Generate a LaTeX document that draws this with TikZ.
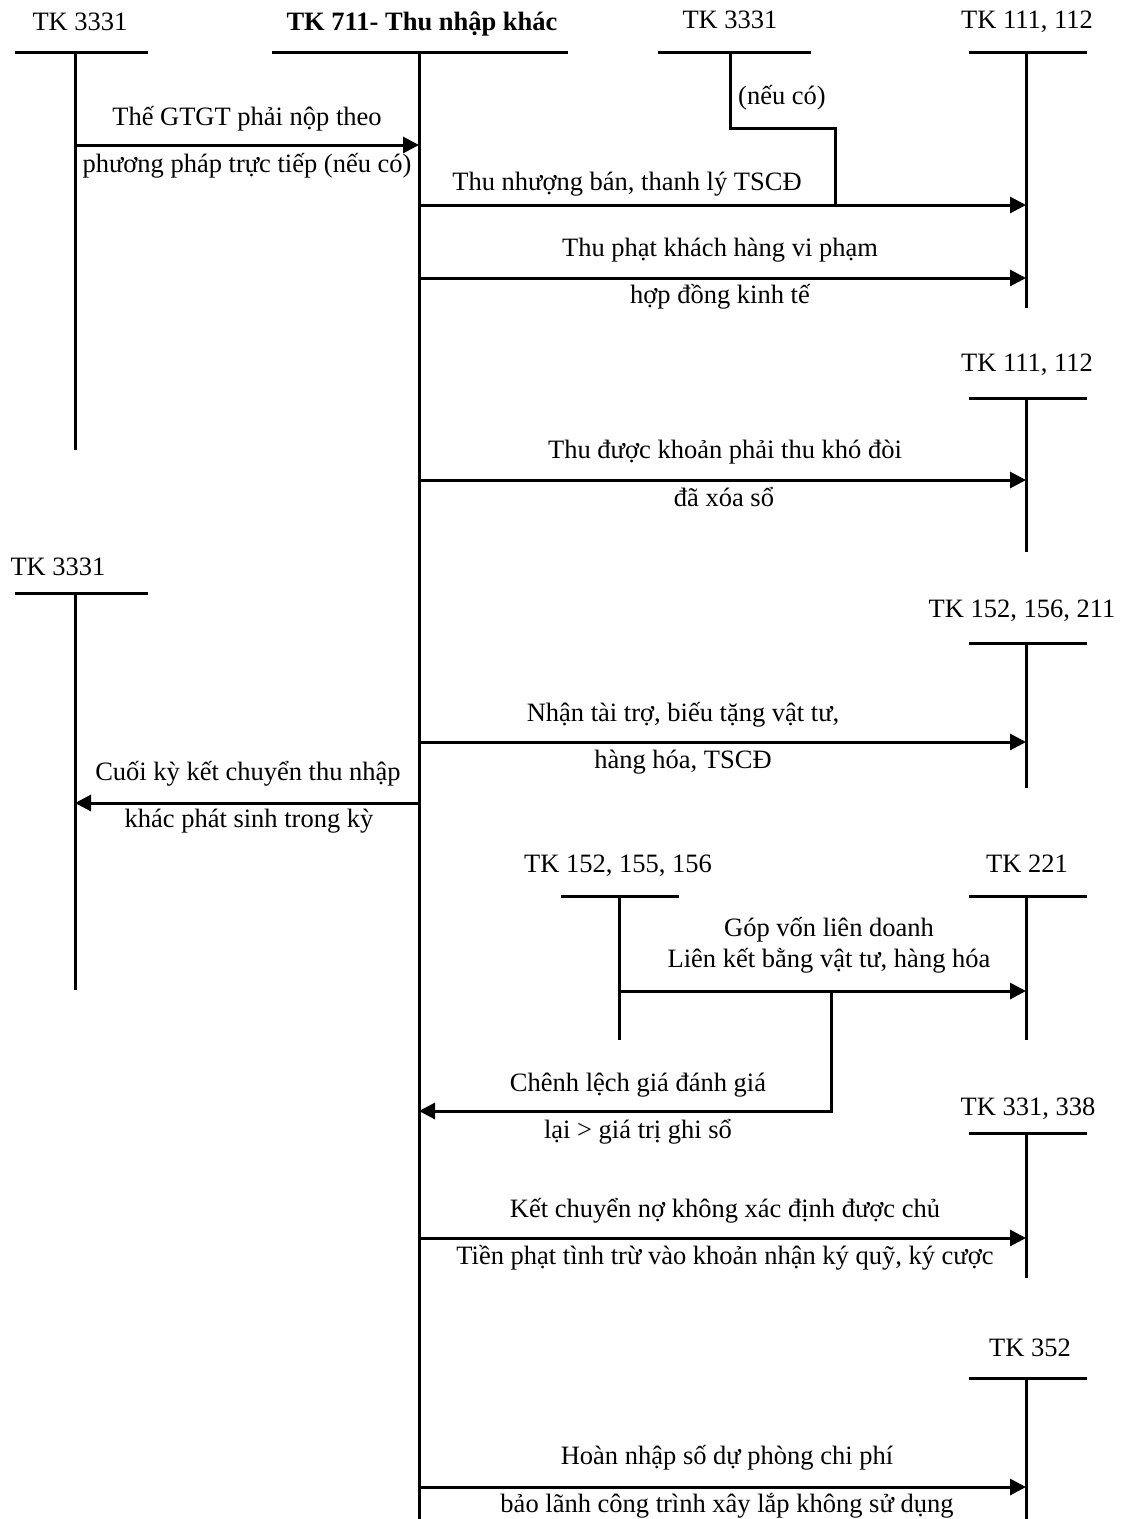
\documentclass[tikz,border=0pt]{standalone}
\usepackage{fontspec}
\setmainfont{Liberation Serif}
\usetikzlibrary{arrows.meta}
\tikzset{
	linie/.style={line width=3pt},
	pfeil/.style={line width=3pt,-{Triangle[length=16pt,width=16pt]}},
	txt/.style={anchor=base,inner sep=0pt,font=\fontsize{26.5}{32}\selectfont},
}
\begin{document}
\begin{tikzpicture}[x=1pt,y=-1pt]
	\useasboundingbox (0,0) rectangle (1128,1519);
	%Kontenkoepfe
	\node[txt] (t3331a) at (80,30) {TK 3331};
	\node[txt,font=\fontsize{26.5}{32}\selectfont\bfseries] (t711) at (422,30) {TK 711- Thu nhập khác};
	\node[txt] (t3331b) at (730,28) {TK 3331};
	\node[txt] (t111a) at (1027,28) {TK 111, 112};
	\node[txt] (t111b) at (1027,371) {TK 111, 112};
	\node[txt] (t3331c) at (58,575) {TK 3331};
	\node[txt] (t152a) at (1022,617) {TK 152, 156, 211};
	\node[txt] (t152b) at (618,872) {TK 152, 155, 156};
	\node[txt] (t221) at (1027,872) {TK 221};
	\node[txt] (t331) at (1028,1115) {TK 331, 338};
	\node[txt] (t352) at (1030,1356) {TK 352};
	%T-Konten
	\coordinate (k3331a) at (75,52);
	\coordinate (k711) at (419,52);
	\coordinate (k3331b) at (730,52);
	\coordinate (k111a) at (1026,52);
	\coordinate (k111b) at (1026,398);
	\coordinate (k3331c) at (75,593);
	\coordinate (k152a) at (1026,643);
	\coordinate (k152b) at (619,896);
	\coordinate (k221) at (1026,896);
	\coordinate (k331) at (1026,1133);
	\coordinate (k352) at (1026,1378);
	\foreach \k/\a/\b/\l in {k3331a/60/73/398, k711/147/149/1467, k111a/57/61/256,
		k111b/57/61/154, k3331c/60/73/397, k152a/57/61/145, k152b/58/60/144,
		k221/57/61/144, k331/57/61/145, k352/57/61/141}
		\draw[linie] ([xshift=-\a pt]\k) -- ([xshift=\b pt]\k) (\k) -- ++(0,\l);
	\draw[linie] ([xshift=-72pt]k3331b) -- ([xshift=81pt]k3331b);
	%Buchungen
	\coordinate (a1) at (75,145);
	\coordinate (a2) at (419,205);
	\coordinate (a3) at (419,278);
	\coordinate (a4) at (419,480);
	\coordinate (a5) at (419,742);
	\coordinate (a6) at (419,803);
	\coordinate (a7) at (619,991);
	\coordinate (a8) at (419,1111);
	\coordinate (a9) at (419,1238);
	\coordinate (a10) at (419,1487);
	\coordinate (eck) at (835,128);
	\coordinate (abzw) at (831,991);
	\draw[pfeil] (a1) -- (a1 -| k711);
	\draw[pfeil] (a2) -- (a2 -| k111a);
	\draw[linie] (k3331b) |- (eck) -- (eck |- a2);
	\draw[pfeil] (a3) -- (a3 -| k111a);
	\draw[pfeil] (a4) -- (a4 -| k111b);
	\draw[pfeil] (a5) -- (a5 -| k152a);
	\draw[pfeil] (a6) -- (a6 -| k3331c);
	\draw[pfeil] (a7) -- (a7 -| k221);
	\draw[pfeil] (abzw) |- (a8);
	\draw[pfeil] (a9) -- (a9 -| k331);
	\draw[pfeil] (a10) -- (a10 -| k352);
	%Texte
	\node[txt] (l1a) at (247,125) {Thế GTGT phải nộp theo};
	\node[txt] (l1b) at (247,172) {phương pháp trực tiếp (nếu có)};
	\node[txt] (lnc) at (782,104) {(nếu có)};
	\node[txt] (l2) at (627,190) {Thu nhượng bán, thanh lý TSCĐ};
	\node[txt] (l3a) at (720,256) {Thu phạt khách hàng vi phạm};
	\node[txt] (l3b) at (720,303) {hợp đồng kinh tế};
	\node[txt] (l4a) at (725,458) {Thu được khoản phải thu khó đòi};
	\node[txt] (l4b) at (724,506) {đã xóa sổ};
	\node[txt] (l5a) at (683,721) {Nhận tài trợ, biếu tặng vật tư,};
	\node[txt] (l5b) at (683,768) {hàng hóa, TSCĐ};
	\node[txt] (l6a) at (248,780) {Cuối kỳ kết chuyển thu nhập};
	\node[txt] (l6b) at (249,827) {khác phát sinh trong kỳ};
	\node[txt] (l7a) at (829,936) {Góp vốn liên doanh};
	\node[txt] (l7b) at (829,967) {Liên kết bằng vật tư, hàng hóa};
	\node[txt] (l8a) at (638,1091) {Chênh lệch giá đánh giá};
	\node[txt] (l8b) at (638,1138) {lại > giá trị ghi sổ};
	\node[txt] (l9a) at (725,1217) {Kết chuyển nợ không xác định được chủ};
	\node[txt] (l9b) at (725,1264) {Tiền phạt tình trừ vào khoản nhận ký quỹ, ký cược};
	\node[txt] (l10a) at (727,1464) {Hoàn nhập số dự phòng chi phí};
	\node[txt] (l10b) at (727,1512) {bảo lãnh công trình xây lắp không sử dụng};
\end{tikzpicture}
\end{document}
